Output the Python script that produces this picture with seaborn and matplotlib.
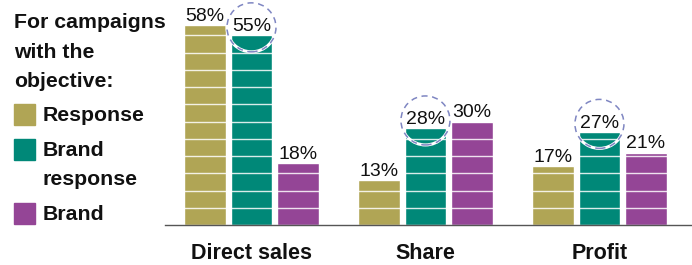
import numpy as np
import pandas as pd
import matplotlib
matplotlib.use("Agg")
import matplotlib.pyplot as plt
from matplotlib.patches import Ellipse, Rectangle
import seaborn as sns

metrics = ["Direct sales", "Share", "Profit"]
objectives = ["Response", "Brand response", "Brand"]
legend_lines = [["Response"], ["Brand", "response"], ["Brand"]]
title_lines = ["For campaigns", "with the", "objective:"]
response = [58, 13, 17]
brand_response = [55, 28, 27]
brand = [18, 30, 21]
colors = ["#B0A555", "#008878", "#944596"]
highlight = "Brand response"

df = pd.DataFrame({
    "metric": metrics * 3,
    "objective": np.repeat(objectives, 3),
    "value": response + brand_response + brand,
})

sns.set_style("white")
plt.rcParams["font.family"] = ["Liberation Sans", "DejaVu Sans"]

fig = plt.figure(figsize=(6.92, 2.65), dpi=100)
ax = fig.add_axes([165 / 692, 40 / 265, 527 / 692, 225 / 265])
sns.barplot(data=df, x="metric", y="value", hue="objective", order=metrics,
            hue_order=objectives, palette=colors, saturation=1, width=0.8,
            gap=0.1, legend=False, ax=ax)
ax.set_xlim(-0.497, 2.532)
ax.set_ylim(0, 65.25)

# white stripes every 5 points
for p in ax.patches:
    h = p.get_height()
    x0, x1 = p.get_x(), p.get_x() + p.get_width()
    for yy in np.arange(5, h, 5):
        ax.hlines(yy, x0, x1, color="white", lw=1, alpha=0.85, zorder=3)

# value labels
for p in ax.patches:
    h = p.get_height()
    ax.annotate(f"{h:.0f}%", (p.get_x() + p.get_width() / 2, h),
                xytext=(0, 3), textcoords="offset points", ha="center",
                va="baseline", fontsize=14, color="#111111", zorder=5)

# dashed circles around highlighted series
px_x = (ax.get_xlim()[1] - ax.get_xlim()[0]) / 527
px_y = (ax.get_ylim()[1] - ax.get_ylim()[0]) / 225
hi = objectives.index(highlight)
for p in ax.patches[hi * 3:(hi + 1) * 3]:
    cx = p.get_x() + p.get_width() / 2
    cy = p.get_height() + 8 * px_y
    for ls, col, lw in [("-", "white", 2.2), ((0, (4, 3)), "#7F86C2", 1.1)]:
        ax.add_patch(Ellipse((cx, cy), 49 * px_x, 49 * px_y, fill=False,
                             ls=ls, ec=col, lw=lw, zorder=4, clip_on=False))

ax.set_xlabel("")
ax.set_ylabel("")
ax.set_yticks([])
ax.tick_params(axis="x", length=0, pad=13)
for lab in ax.get_xticklabels():
    lab.set_fontweight("bold")
    lab.set_fontsize(15.5)
    lab.set_color("#111111")
for s in ["top", "right", "left"]:
    ax.spines[s].set_visible(False)
ax.spines["bottom"].set_color("#555555")
ax.spines["bottom"].set_linewidth(1)

# legend block on the left
def put(x_px, base_px, s):
    fig.text(x_px / 692, 1 - base_px / 265, s, fontsize=15.3,
             fontweight="bold", va="baseline", ha="left", color="#111111")

for k, line in enumerate(title_lines):
    put(14, 28 + 29.5 * k, line)

sq_tops = [104, 139, 203]
for lines, col, top in zip(legend_lines, colors, sq_tops):
    fig.patches.append(Rectangle((14 / 692, 1 - (top + 21) / 265), 21 / 692,
                                 21 / 265, transform=fig.transFigure,
                                 color=col))
    for k, line in enumerate(lines):
        put(43, top + 17 + 29 * k, line)

plt.savefig("out.png", dpi=100)
